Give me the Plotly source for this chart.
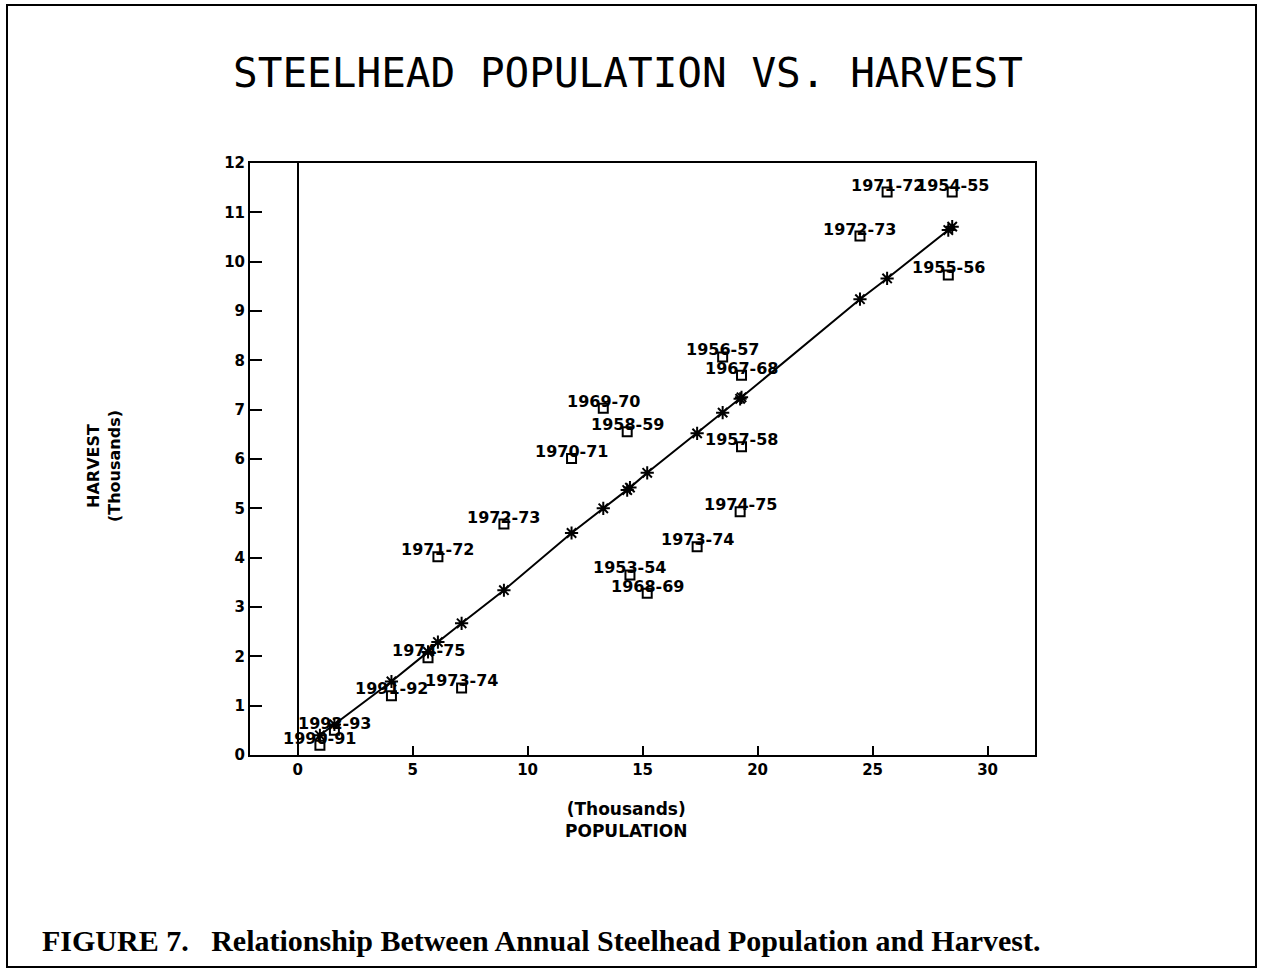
import plotly.graph_objects as go

# ---- data ----
season_labels = ["1971-72", "1954-55", "1972-73", "1955-56", "1956-57", "1967-68",
                 "1969-70", "1958-59", "1970-71", "1957-58", "1974-75", "1972-73",
                 "1973-74", "1971-72", "1953-54", "1968-69", "1974-75", "1973-74",
                 "1991-92", "1992-93", "1990-91"]
population = [25.63, 28.46, 24.45, 28.29, 18.48, 19.30, 13.29, 14.33, 11.91, 19.30,
              19.24, 8.97, 17.37, 6.10, 14.45, 15.20, 5.67, 7.13, 4.08, 1.60, 0.97]
harvest = [11.41, 11.41, 10.52, 9.73, 8.07, 7.70, 7.03, 6.55, 6.01, 6.25,
           4.93, 4.68, 4.22, 4.02, 3.65, 3.28, 1.97, 1.36, 1.20, 0.50, 0.20]

fit_population = [0.97, 1.60, 4.08, 5.67, 6.10, 7.13, 8.97, 11.91, 13.29, 14.33,
                  14.45, 15.20, 17.37, 18.48, 19.24, 19.30, 24.45, 25.63, 28.29, 28.46]
fit_harvest = [0.40, 0.62, 1.49, 2.09, 2.29, 2.67, 3.34, 4.50, 5.00, 5.37,
               5.42, 5.72, 6.52, 6.94, 7.22, 7.25, 9.24, 9.66, 10.64, 10.71]

x_ticks = [0, 5, 10, 15, 20, 25, 30]
y_ticks = list(range(0, 13))

title_text = "STEELHEAD POPULATION VS. HARVEST"
caption_text = "FIGURE 7.&nbsp;&nbsp; Relationship Between Annual Steelhead Population and Harvest."

# ---- figure ----
fig = go.Figure()

fig.add_trace(go.Scatter(
    x=fit_population, y=fit_harvest, mode="lines+markers",
    line=dict(color="black", width=2),
    marker=dict(symbol="asterisk-open", size=11, line=dict(color="black", width=2)),
    showlegend=False, hoverinfo="skip"))

fig.add_trace(go.Scatter(
    x=population, y=harvest, mode="markers",
    marker=dict(symbol="square-open", size=9, color="black",
                line=dict(color="black", width=2)),
    showlegend=False))

for lab, px, hy in zip(season_labels, population, harvest):
    fig.add_annotation(x=px, y=hy, xref="x", yref="y", text=lab, showarrow=False,
                       xanchor="center", yanchor="middle", yshift=7,
                       font=dict(family="DejaVu Sans", size=16, color="black", weight="bold"))

L, R, T, B = 250, 228, 163, 215
W, H = 1263, 970
pw, ph = W - L - R, H - T - B

def px_to_paper_x(p):
    return (p - L) / pw

def px_to_paper_y(p):
    return (H - B - p) / ph

# outer border of the figure
fig.add_shape(type="rect", xref="paper", yref="paper",
              x0=px_to_paper_x(7), x1=px_to_paper_x(1256),
              y0=px_to_paper_y(967), y1=px_to_paper_y(5),
              line=dict(color="black", width=2), fillcolor="rgba(0,0,0,0)")

axis_title_font = dict(family="DejaVu Sans", size=16, color="black", weight="bold")

# axis titles
fig.add_annotation(xref="paper", yref="paper", x=px_to_paper_x(82), y=px_to_paper_y(466),
                   text="HARVEST<br>(Thousands)", textangle=-90, showarrow=False,
                   font=axis_title_font)
fig.add_annotation(xref="paper", yref="paper", x=px_to_paper_x(626), y=px_to_paper_y(843),
                   text="(Thousands)<br>POPULATION", showarrow=False,
                   font=dict(family="DejaVu Sans", size=17, color="black", weight="bold"))

# caption
fig.add_annotation(xref="paper", yref="paper", x=px_to_paper_x(40), y=px_to_paper_y(940),
                   xanchor="left", yanchor="middle", text=caption_text, showarrow=False,
                   font=dict(family="Liberation Serif", size=30, color="black", weight="bold"))

tick_font = dict(family="DejaVu Sans", size=15, color="black", weight="bold")

fig.update_layout(
    width=W, height=H,
    margin=dict(l=L, r=R, t=T, b=B),
    paper_bgcolor="white", plot_bgcolor="white",
    title=dict(text=title_text, x=628 / W, y=1 - 73 / H, xref="container", yref="container",
               xanchor="center", yanchor="middle",
               font=dict(family="DejaVu Sans Mono", size=41, color="black")),
    xaxis=dict(range=[-2.07, 32.06], tickvals=x_ticks, ticks="inside", ticklen=9,
               tickwidth=2, tickcolor="black", showgrid=False, zeroline=True,
               zerolinecolor="black", zerolinewidth=2, showline=True, linecolor="black",
               linewidth=2, mirror=True, tickfont=tick_font),
    yaxis=dict(range=[0, 12], tickvals=y_ticks, ticks="inside", ticklen=12,
               tickwidth=2, tickcolor="black", showgrid=False, zeroline=False,
               showline=True, linecolor="black", linewidth=2, mirror=True,
               tickfont=tick_font),
)

fig.write_html("out.html", config={"displayModeBar": False},
               post_script="document.body.style.margin='0';")
